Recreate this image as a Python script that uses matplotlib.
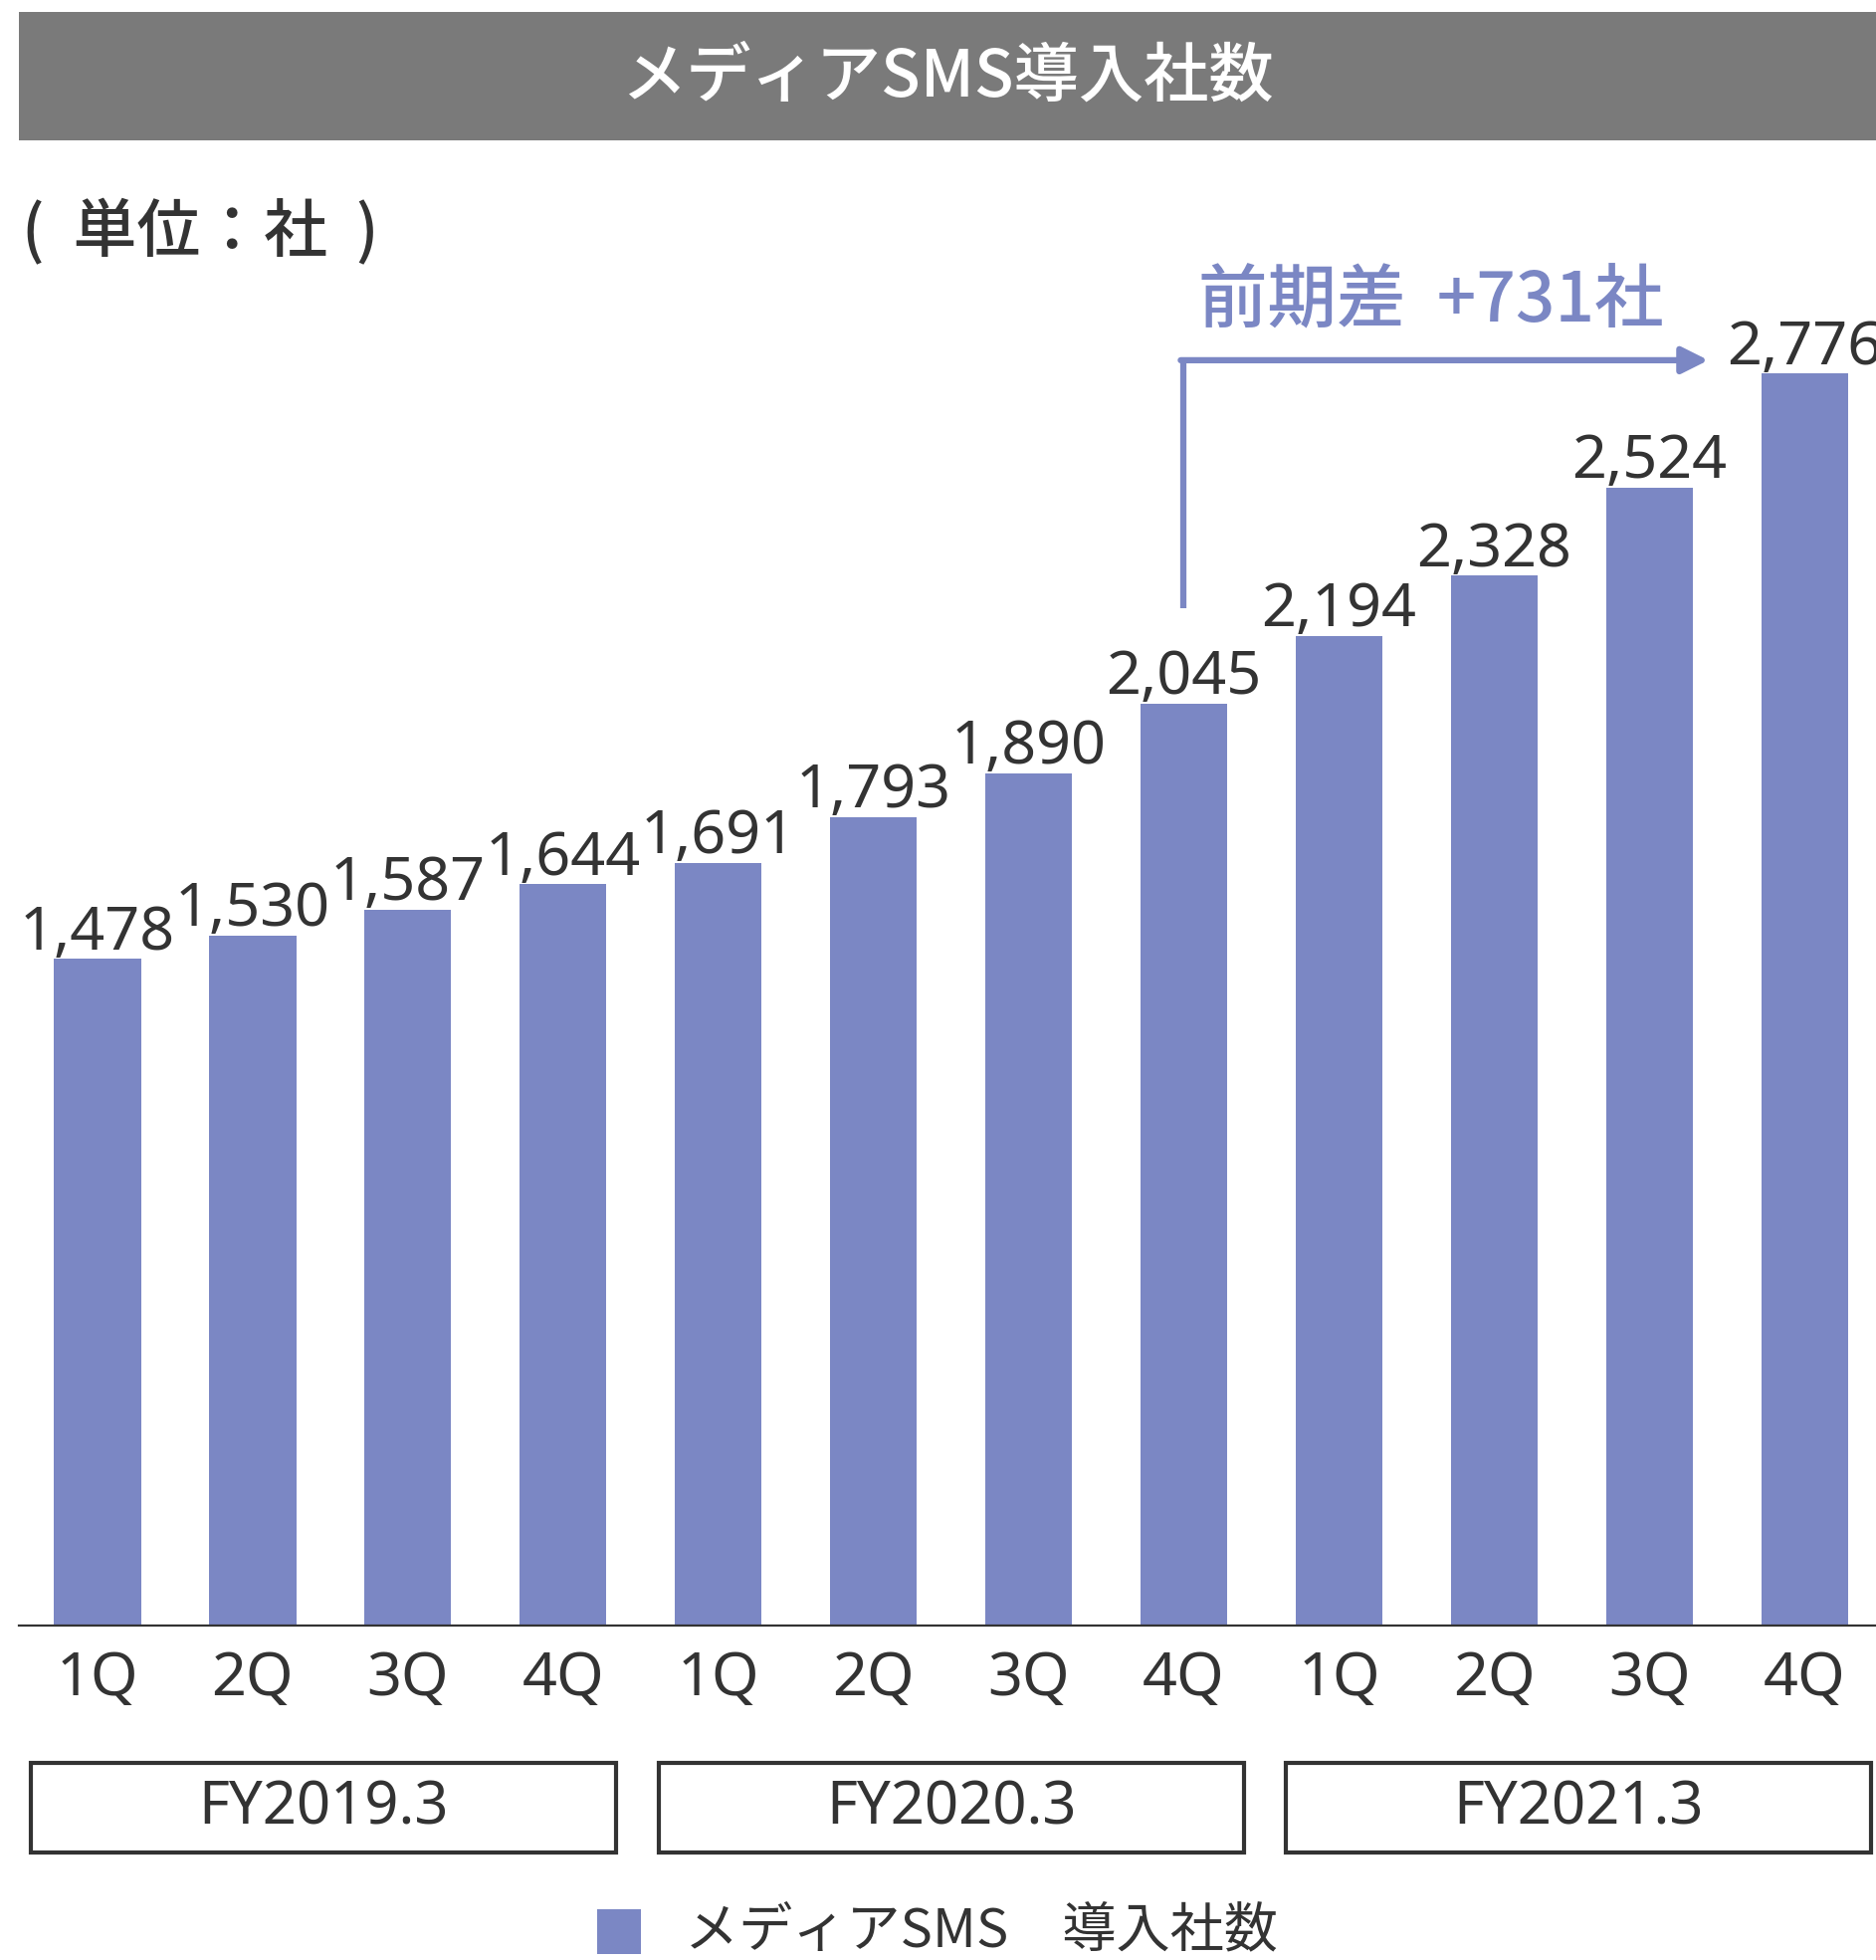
import matplotlib
matplotlib.use("Agg")
import matplotlib.pyplot as plt
from matplotlib.patches import Rectangle

plt.rcParams['font.family'] = ['Noto Sans', 'Noto Sans CJK JP', 'DejaVu Sans']

# ---- data ----
quarters = ["1Q", "2Q", "3Q", "4Q", "1Q", "2Q", "3Q", "4Q", "1Q", "2Q", "3Q", "4Q"]
values = [1478, 1530, 1587, 1644, 1691, 1793, 1890, 2045, 2194, 2328, 2524, 2776]
fiscal_years = ["FY2019.3", "FY2020.3", "FY2021.3"]
title = "メディアSMS導入社数"
unit_label = "(  単位：社  )"
legend_label = "メディアSMS　導入社数"
diff_label = "前期差  +731社"

BAR = "#7b87c4"
TXT = "#333333"
CJK = ['Noto Sans CJK JP', 'DejaVu Sans']

W, H = 1885, 1969
fig = plt.figure(figsize=(W / 100, H / 100), dpi=100)

# title bar
fig.patches.append(Rectangle((19 / W, 1 - 141 / H), (W - 19) / W, 129 / H,
                             transform=fig.transFigure, facecolor="#7a7a7a",
                             edgecolor="none", zorder=0))
fig.text((19 + W) / 2 / W, 1 - 78 / H, title, color="white", fontsize=47,
         family=CJK, fontweight="medium", ha="center", va="center")

# unit label
fig.text(22 / W, 1 - 234 / H, unit_label, color=TXT, fontsize=46,
         family=CJK, fontweight="medium", ha="left", va="center")

ax = fig.add_axes([19 / W, (H - 1633) / H, (W - 19) / W, 1359 / H])
x = list(range(len(values)))
ax.bar(x, values, width=0.56, color=BAR, zorder=2)
ax.set_xlim(-0.506, 11.46)
ax.set_ylim(0, 3000)
for s in ["top", "right", "left"]:
    ax.spines[s].set_visible(False)
ax.spines["bottom"].set_color(TXT)
ax.spines["bottom"].set_linewidth(1.6)
ax.set_yticks([])
ax.set_xticks(x)
ax.set_xticklabels(quarters, fontsize=44, color=TXT, fontweight="medium")
ax.tick_params(axis="x", length=0, pad=17)

for xi, v in zip(x, values):
    ax.annotate(f"{v:,}", (xi, v), xytext=(0, 7), textcoords="offset points",
                ha="center", va="baseline", fontsize=44, color=TXT,
                fontweight="medium", annotation_clip=False, clip_on=False)

# growth annotation arrow (from 4Q FY2020.3 to 4Q FY2021.3)
i0, i1 = 7, 11
y_h = values[i1] + 30
ax.plot([i0, i0], [values[i0] + 210, y_h], color=BAR, lw=4.5,
        solid_capstyle="butt", clip_on=False, zorder=3)
ax.annotate("", xy=(i1 - 0.62, y_h), xytext=(i0 - 0.02, y_h),
            arrowprops=dict(arrowstyle="-|>,head_length=1.6,head_width=0.8",
                            color=BAR, lw=4.5, shrinkA=0, shrinkB=0),
            annotation_clip=False)
ax.text(i0 + 0.09, y_h + 128, diff_label, color=BAR, fontsize=50,
        family=CJK, fontweight="medium", ha="left", va="center", clip_on=False)

# fiscal year boxes (figure pixel positions)
box_left = [31, 662, 1292]
box_w = 588
box_y0 = (H - 1861) / H
box_h = 90 / H
for bl, fy in zip(box_left, fiscal_years):
    r = Rectangle((bl / W, box_y0), box_w / W, box_h, transform=fig.transFigure,
                  facecolor="white", edgecolor=TXT, linewidth=3, zorder=1)
    fig.patches.append(r)
    fig.text((bl + box_w / 2) / W, box_y0 + box_h / 2, fy,
             ha="center", va="center", fontsize=43, color=TXT,
             fontweight="medium", zorder=5)

# legend
fig.patches.append(Rectangle((600 / W, 1 - 1963 / H), 44 / W, 45 / H,
                             transform=fig.transFigure, facecolor=BAR,
                             edgecolor="none"))
fig.text(688 / W, 1 - 1940 / H, legend_label, color=TXT, fontsize=39,
         family=CJK, ha="left", va="center")

fig.savefig("out.png", dpi=100)
